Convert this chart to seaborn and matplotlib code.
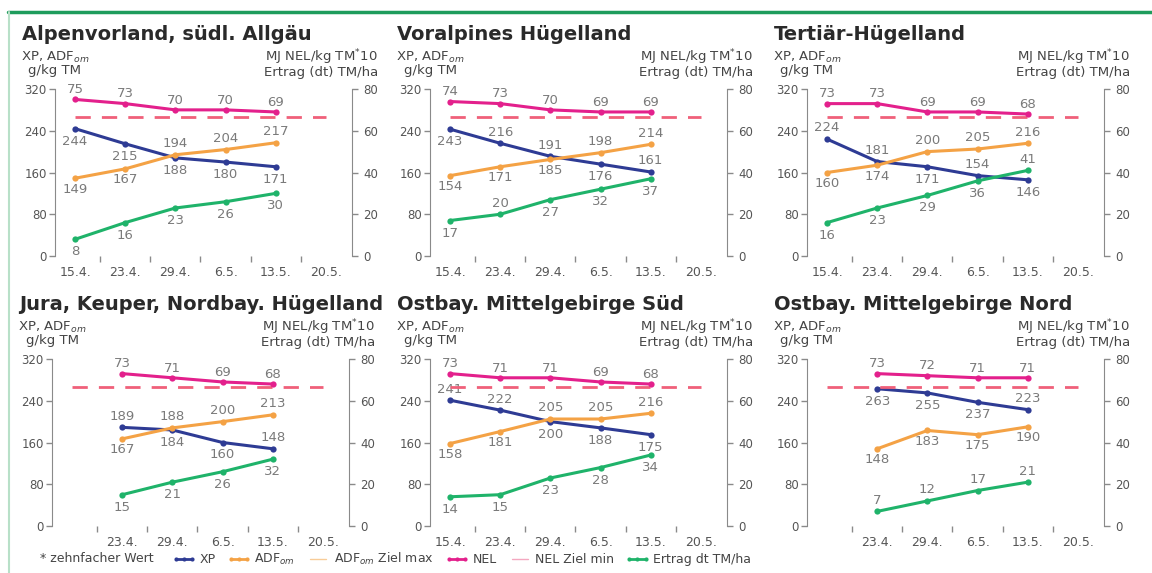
import matplotlib
matplotlib.use('Agg')
import matplotlib.pyplot as plt
from matplotlib.lines import Line2D
import numpy as np
import pandas as pd
import seaborn as sns

# ---------------- data ----------------
DATES = ['15.4.', '23.4.', '29.4.', '6.5.', '13.5.', '20.5.']
TITLES = ['Alpenvorland, südl. Allgäu', 'Voralpines Hügelland', 'Tertiär-Hügelland',
          'Jura, Keuper, Nordbay. Hügelland', 'Ostbay. Mittelgebirge Süd',
          'Ostbay. Mittelgebirge Nord']
P_DATES = [DATES[0:5], DATES[0:5], DATES[0:5], DATES[1:5], DATES[0:5], DATES[1:5]]
XP = [[244, 215, 188, 180, 171],
      [243, 216, 191, 176, 161],
      [224, 181, 171, 154, 146],
      [189, 184, 160, 148],
      [241, 222, 200, 188, 175],
      [263, 255, 237, 223]]
ADF = [[149, 167, 194, 204, 217],
       [154, 171, 185, 198, 214],
       [160, 174, 200, 205, 216],
       [167, 188, 200, 213],
       [158, 181, 205, 205, 216],
       [148, 183, 175, 190]]
NEL = [[75, 73, 70, 70, 69],
       [74, 73, 70, 69, 69],
       [73, 73, 69, 69, 68],
       [73, 71, 69, 68],
       [73, 71, 71, 69, 68],
       [73, 72, 71, 71]]
ERTRAG = [[8, 16, 23, 26, 30],
          [17, 20, 27, 32, 37],
          [16, 23, 29, 36, 41],
          [15, 21, 26, 32],
          [14, 15, 23, 28, 34],
          [7, 12, 17, 21]]
NEL_ZIEL_MIN = 66.5

# label placement (a = above, b = below)
POS_XP = ['bbbbb', 'baaba', 'aabab', 'abba', 'aabbb', 'bbba']
POS_ADF = ['bbaaa', 'bbbaa', 'bbaaa', 'baaa', 'bbaaa', 'bbbb']
POS_NEL = ['aaaaa', 'aaaaa', 'aaaaa', 'aaaa', 'aaaaa', 'aaaa']
POS_ERT = ['bbbbb', 'babbb', 'bbbba', 'bbbb', 'bbbbb', 'aaaa']

# ---------------- style ----------------
sns.set_style('white')
plt.rcParams['font.family'] = ['DejaVu Sans']

C_XP = '#2e3b94'
C_ADF = '#f4a245'
C_NEL = '#e3208c'
C_ERT = '#1fb36a'
C_ZIEL = '#f0607a'
C_ADF_Z = '#f8cc98'
C_NEL_Z = '#f4a8c0'
GRAY = '#8a8a8a'
TXT = '#555555'
LBL = '#7a7a7a'

W, H = 1152, 573
fig = plt.figure(figsize=(W / 100, H / 100), dpi=100)

lefts = [55, 430, 807]
tops = [89, 359]
aw, ah = 297, 167
PX = 0.72  # points per pixel


def put_labels(axx, xs, vals, pos, up, down):
    for x, v, p in zip(xs, vals, pos):
        axx.annotate(str(v), (x, v), xytext=(0, up if p == 'a' else -down),
                     textcoords='offset points', ha='center', va='center',
                     fontsize=9.5, color=LBL)


for i in range(6):
    r, c = divmod(i, 3)
    l = lefts[c] - (3 if (r == 1 and c == 0) else 0)
    ax = fig.add_axes([l / W, 1 - (tops[r] + ah) / H, aw / W, ah / H])
    ax2 = ax.twinx()

    xs = [DATES.index(d) for d in P_DATES[i]]
    df = pd.DataFrame({'pos': xs, 'XP': XP[i], 'ADF': ADF[i],
                       'NEL': NEL[i], 'Ertrag': ERTRAG[i]})

    lw = 2.2
    ms = 4.5
    sns.lineplot(data=df, x='pos', y='XP', ax=ax, color=C_XP, lw=lw,
                 marker='o', markersize=ms, markeredgewidth=0)
    sns.lineplot(data=df, x='pos', y='ADF', ax=ax, color=C_ADF, lw=lw,
                 marker='o', markersize=ms, markeredgewidth=0)
    ax2.hlines(NEL_ZIEL_MIN, 0, len(DATES) - 1, colors=C_ZIEL, lw=2,
               linestyles=(0, (5.5, 4)))
    sns.lineplot(data=df, x='pos', y='NEL', ax=ax2, color=C_NEL, lw=lw,
                 marker='o', markersize=ms, markeredgewidth=0)
    sns.lineplot(data=df, x='pos', y='Ertrag', ax=ax2, color=C_ERT, lw=lw,
                 marker='o', markersize=ms, markeredgewidth=0)

    for axx in (ax, ax2):
        axx.set_xlim(-0.4, 5.52)
        axx.set_xlabel('')
        axx.set_ylabel('')
        for s in axx.spines.values():
            s.set_visible(False)
    ax.set_ylim(0, 320)
    ax2.set_ylim(0, 80)
    ax.set_yticks([0, 80, 160, 240, 320])
    ax2.set_yticks([0, 20, 40, 60, 80])
    ax.spines['left'].set_visible(True)
    ax.spines['left'].set_color(GRAY)
    ax2.spines['right'].set_visible(True)
    ax2.spines['right'].set_color(GRAY)

    first = xs[0]
    ax.set_xticks(range(len(DATES)))
    ax.set_xticklabels([d if k >= first else '' for k, d in enumerate(DATES)])
    ax.set_xticks(np.arange(0.5, 5, 1), minor=True)
    ax.tick_params(axis='x', which='major', length=0, pad=7, labelsize=9,
                   labelcolor=TXT, bottom=True)
    ax.tick_params(axis='x', which='minor', length=4, color=GRAY, width=1,
                   direction='out', bottom=True)
    ax.tick_params(axis='y', length=4, color=GRAY, width=1, labelsize=8.5,
                   labelcolor=TXT, pad=2, left=True, direction='out')
    ax2.tick_params(axis='y', length=4, color=GRAY, width=1, labelsize=8.5,
                    labelcolor=TXT, pad=4, right=True, direction='out')
    ax2.tick_params(axis='x', bottom=False, labelbottom=False)

    # data labels
    put_labels(ax, xs, XP[i], POS_XP[i], 8, 9)
    put_labels(ax, xs, ADF[i], POS_ADF[i], 8, 8)
    put_labels(ax2, xs, NEL[i], POS_NEL[i], 7, 8)
    put_labels(ax2, xs, ERTRAG[i], POS_ERT[i], 8, 9)

    # titles and axis captions
    ax.annotate(TITLES[i], xy=(0, 1), xycoords='axes fraction',
                xytext=(-33 * PX, 54 * PX), textcoords='offset points',
                ha='left', va='center', fontsize=14, fontweight='bold',
                color='#2a2a2a')
    ax.annotate('XP, ADF$_{om}$\ng/kg TM', xy=(0, 1), xycoords='axes fraction',
                xytext=(0, 26 * PX), textcoords='offset points',
                ha='center', va='center', ma='center', fontsize=9.5,
                color='#444444', linespacing=0.9)
    ax.annotate('MJ NEL/kg TM$^{*}$10\nErtrag (dt) TM/ha', xy=(1, 1),
                xycoords='axes fraction', xytext=(26 * PX, 26 * PX),
                textcoords='offset points', ha='right', va='center',
                ma='right', fontsize=9.5, color='#444444', linespacing=0.9)

# frame decoration
fig.add_artist(Line2D([8 / W, 1], [1 - 12 / H, 1 - 12 / H], transform=fig.transFigure,
                      color='#1e9c5c', lw=2.5))
fig.add_artist(Line2D([9 / W, 9 / W], [0, 1 - 12 / H], transform=fig.transFigure,
                      color='#b8e0c8', lw=1.5))

# legend
fig.text(40 / W, 1 - 559 / H, '* zehnfacher Wert', fontsize=9, color='#444444',
         va='center', ha='left')
handles = [
    Line2D([], [], color=C_XP, lw=2, marker='o', markersize=3, markeredgewidth=0),
    Line2D([], [], color=C_ADF, lw=2, marker='o', markersize=3, markeredgewidth=0),
    Line2D([], [], color=C_ADF_Z, lw=1),
    Line2D([], [], color=C_NEL, lw=2, marker='o', markersize=3, markeredgewidth=0),
    Line2D([], [], color=C_NEL_Z, lw=1),
    Line2D([], [], color=C_ERT, lw=2, marker='o', markersize=3, markeredgewidth=0),
]
labels = ['XP', 'ADF$_{om}$', 'ADF$_{om}$ Ziel max', 'NEL', 'NEL Ziel min',
          'Ertrag dt TM/ha']
leg = fig.legend(handles, labels, loc='center left',
                 bbox_to_anchor=(172 / W, 1 - 559 / H), ncol=6, frameon=False,
                 fontsize=9, handlelength=1.9, handletextpad=0.3,
                 columnspacing=0.9, numpoints=3, borderaxespad=0,
                 borderpad=0)
for t in leg.get_texts():
    t.set_color('#444444')

fig.savefig('out.png', dpi=100, facecolor='white')
